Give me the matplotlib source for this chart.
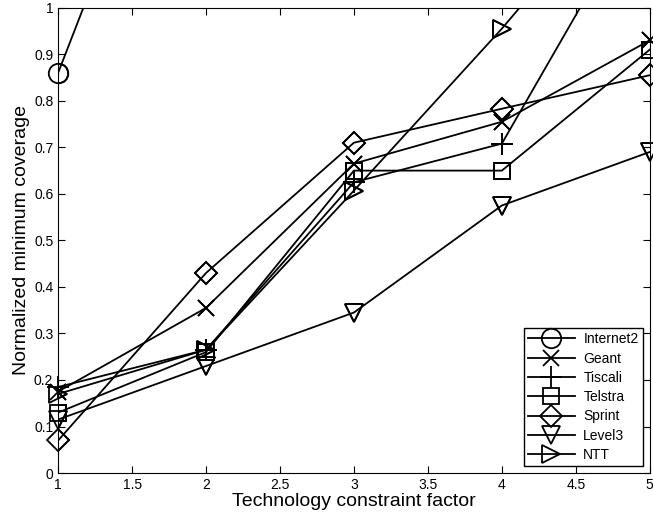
import matplotlib.pyplot as plt
import numpy as np
from matplotlib.ticker import FuncFormatter

plt.rcParams['font.family'] = ['Liberation Sans', 'DejaVu Sans']

x = [1, 2, 3, 4, 5]
internet2 = [0.86, 1.68, 1.9, 2.0, 2.0]
geant = [0.175, 0.355, 0.665, 0.755, 0.93]
tiscali = [0.185, 0.265, 0.625, 0.708, 1.26]
telstra = [0.13, 0.26, 0.65, 0.65, 0.91]
sprint = [0.07, 0.43, 0.71, 0.783, 0.855]
level3 = [0.115, 0.23, 0.345, 0.575, 0.69]
ntt = [0.17, 0.265, 0.607, 0.955, 1.33]

names = ['Internet2', 'Geant', 'Tiscali', 'Telstra', 'Sprint', 'Level3', 'NTT']
series = [internet2, geant, tiscali, telstra, sprint, level3, ntt]
markers = ['o', 'x', '+', 's', 'D', 'v', '>']
sizes = [14, 12, 16, 11, 11, 13, 13]

fig = plt.figure(figsize=(6.53, 5.17), dpi=100)
ax = fig.add_axes([0.089, 0.085, 0.906, 0.9])

for name, vals, m, ms in zip(names, series, markers, sizes):
    style = dict(color='black', linewidth=1.3, marker=m, markersize=ms,
                 markerfacecolor='none', markeredgecolor='black', markeredgewidth=1.3)
    # lines clipped to the axes, markers drawn whole (like matlab)
    ax.plot(x, vals, label=name, **style)
    vals = np.array(vals)
    inside = np.ma.masked_where(vals > 1, vals)
    ax.plot(x, inside, linestyle='none', clip_on=False, **{k: v for k, v in style.items() if k != 'linewidth'})

ax.set_xlim(1, 5)
ax.set_ylim(0, 1)
ax.set_xticks(np.arange(1, 5.01, 0.5))
ax.set_yticks(np.arange(0, 1.01, 0.1))
ax.xaxis.set_major_formatter(FuncFormatter(lambda v, p: f'{v:g}'))
ax.yaxis.set_major_formatter(FuncFormatter(lambda v, p: f'{v:g}'))
ax.tick_params(direction='in', top=True, right=True, labelsize=10, length=5)
ax.set_xlabel('Technology constraint factor', fontsize=14, labelpad=1)
ax.set_ylabel('Normalized minimum coverage', fontsize=14, labelpad=3)

handles, labels = ax.get_legend_handles_labels()
leg = ax.legend(handles[:7], labels[:7], loc='lower right', fontsize=10, handlelength=3.4,
                labelspacing=0.38, borderaxespad=0.5, fancybox=False, framealpha=1,
                edgecolor='black', borderpad=0.3, handletextpad=0.6)
leg.get_frame().set_linewidth(1.0)

fig.savefig('out.png', dpi=100)
